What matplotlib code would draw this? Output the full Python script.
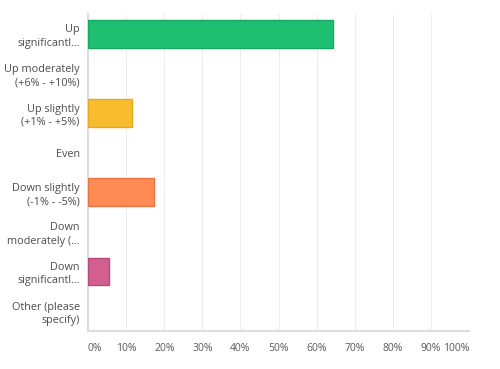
import matplotlib.pyplot as plt

categories = ["Up\nsignificantl...", "Up moderately\n(+6% - +10%)", "Up slightly\n(+1% - +5%)",
              "Even", "Down slightly\n(-1% - -5%)", "Down\nmoderately (...",
              "Down\nsignificantl...", "Other (please\nspecify)"]
values = [64.3, 0, 11.5, 0, 17.3, 0, 5.5, 0]
colors = ["#1fbf71", "#f7bd2f", "#f7bd2f", "#999999", "#fe8a55", "#999999", "#d25f90", "#999999"]
edges = ["#18a862", "#e8aa1a", "#e8aa1a", "#999999", "#ec7440", "#999999", "#b84878", "#999999"]
xticks = [0, 10, 20, 30, 40, 50, 60, 70, 80, 90, 100]

plt.rcParams['font.family'] = ['Open Sans', 'DejaVu Sans']
fig = plt.figure(figsize=(5, 3.69), dpi=100)
ax = fig.add_axes([0.176, 0.103, 0.762, 0.859])

y = list(range(len(categories)))
for i in y:
    if values[i] > 0:
        ax.barh(i, values[i], height=0.7, color=colors[i], edgecolor=edges[i], linewidth=1, zorder=3)

ax.set_xlim(0, 100)
ax.set_ylim(len(categories) - 0.5, -0.5)
ax.set_yticks(y)
ax.set_yticklabels(categories, fontsize=7.8, color="#4d4d4d", linespacing=1.3)
ax.set_xticks(xticks)
ax.set_xticklabels([f"{t}%" for t in xticks], fontsize=7.5, color="#5a5a5a")
xl = ax.get_xticklabels()
xl[0].set_horizontalalignment("left")
xl[-1].set_horizontalalignment("right")
ax.tick_params(length=0)
ax.tick_params(axis='x', pad=9)
ax.tick_params(axis='y', pad=6)
ax.grid(axis='x', color="#eeeeee", linewidth=0.8, zorder=0)
for s in ["top", "right"]:
    ax.spines[s].set_visible(False)
ax.spines["left"].set_color("#dddddd")
ax.spines["left"].set_linewidth(1.5)
ax.spines["bottom"].set_color("#dddddd")
ax.spines["bottom"].set_linewidth(1.5)

fig.savefig("out.png", dpi=100)
